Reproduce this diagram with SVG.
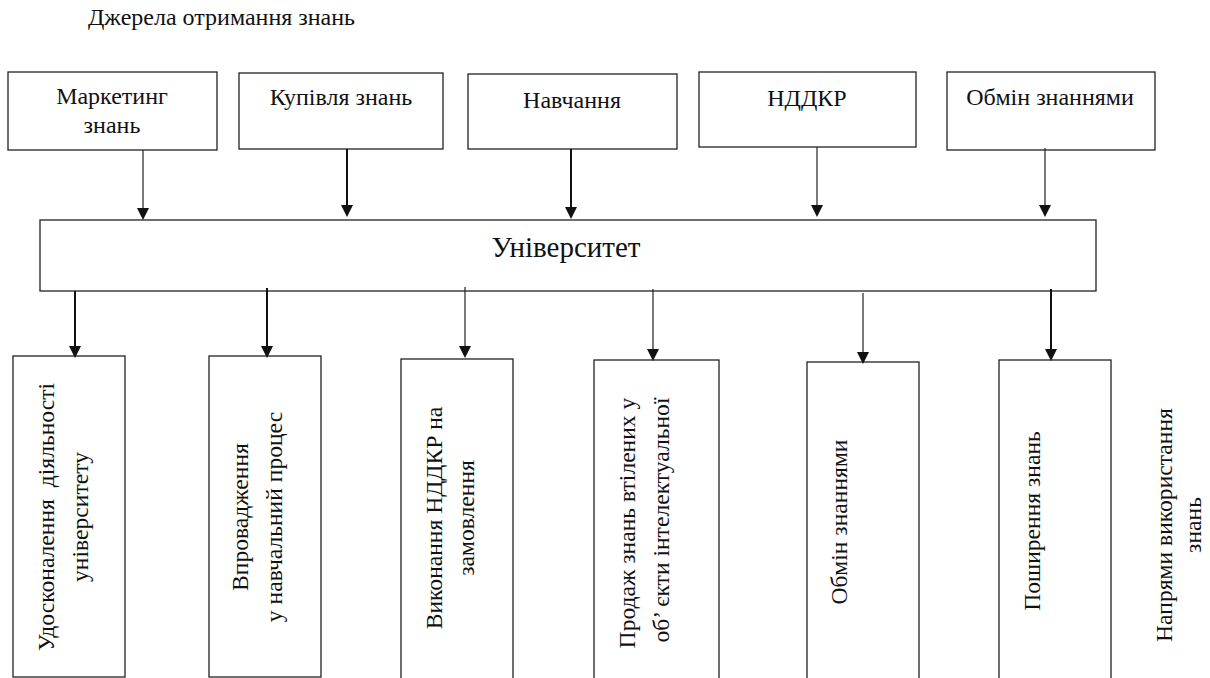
<svg xmlns="http://www.w3.org/2000/svg" width="1210" height="678" viewBox="0 0 1210 678">
<defs>
<style>
.box{fill:#fff;stroke:#222;stroke-width:1.3;}
.t{font-family:"Liberation Serif","Times New Roman",serif;font-size:24px;text-anchor:middle;fill:#111;}
.u{font-family:"Liberation Serif","Times New Roman",serif;font-size:29px;text-anchor:middle;fill:#111;}
.v{font-family:"Liberation Serif","Times New Roman",serif;font-size:23.6px;text-anchor:middle;fill:#111;}
.title{font-family:"Liberation Serif","Times New Roman",serif;font-size:24px;fill:#111;}
.c1{stroke:#222;stroke-width:1.2;fill:none;marker-end:url(#ah);}
.c2{stroke:#111;stroke-width:2;fill:none;marker-end:url(#ah);}
</style>
<marker id="ah" markerUnits="userSpaceOnUse" markerWidth="12" markerHeight="12" refX="0" refY="5" orient="auto" viewBox="0 0 10 10">
<path d="M0,0 L10,5 L0,10 z" fill="#111"/>
</marker>
</defs>
<rect width="1210" height="678" fill="#fff"/>
<text class="title" x="88" y="25">Джерела отримання знань</text>

<g id="src1"><rect class="box" x="8" y="72" width="209" height="78"/><text class="t" x="112" y="104">Маркетинг</text><text class="t" x="112" y="133">знань</text></g>
<g id="src2"><rect class="box" x="239" y="73" width="204" height="76"/><text class="t" x="341" y="105">Купівля знань</text></g>
<g id="src3"><rect class="box" x="468" y="74" width="209" height="75"/><text class="t" x="572" y="108">Навчання</text></g>
<g id="src4"><rect class="box" x="699" y="72" width="217" height="75"/><text class="t" x="807" y="106">НДДКР</text></g>
<g id="src5"><rect class="box" x="947" y="72" width="208" height="78"/><text class="t" x="1050" y="105">Обмін знаннями</text></g>

<g id="university"><rect class="box" x="40" y="220" width="1056" height="71"/><text class="u" x="566" y="257">Університет</text></g>

<g id="use1"><rect class="box" x="13" y="356" width="112" height="321"/>
<text class="v" transform="translate(54,517) rotate(-90)">Удосконалення&#160; діяльності</text>
<text class="v" transform="translate(88,517) rotate(-90)">університету</text></g>
<g id="use2"><rect class="box" x="209" y="356" width="112" height="321"/>
<text class="v" transform="translate(248,517) rotate(-90)">Впровадження</text>
<text class="v" transform="translate(282,517) rotate(-90)">у навчальний процес</text></g>
<g id="use3"><rect class="box" x="401" y="359" width="112" height="330"/>
<text class="v" transform="translate(442,518) rotate(-90)">Виконання НДДКР на</text>
<text class="v" transform="translate(474,518) rotate(-90)">замовлення</text></g>
<g id="use4"><rect class="box" x="594" y="360" width="125" height="330"/>
<text class="v" transform="translate(635,523) rotate(-90)">Продаж знань втілених у</text>
<text class="v" transform="translate(669,520) rotate(-90)">об’ єкти інтелектуальної</text></g>
<g id="use5"><rect class="box" x="807" y="362" width="112" height="330"/>
<text class="v" transform="translate(847,522) rotate(-90)">Обмін знаннями</text></g>
<g id="use6"><rect class="box" x="999" y="360" width="112" height="330"/>
<text class="v" transform="translate(1040,521) rotate(-90)">Поширення знань</text></g>
<g id="label"><text class="v" transform="translate(1172,525) rotate(-90)">Напрями використання</text>
<text class="v" transform="translate(1201,525) rotate(-90)">знань</text></g>

<g id="connectors">
<path class="c1" d="M143,150 V208"/>
<path class="c2" d="M347,149 V205"/>
<path class="c2" d="M571,149 V207"/>
<path class="c1" d="M817,147 V205"/>
<path class="c1" d="M1045,148 V205"/>
<path class="c2" d="M75,291 V346"/>
<path class="c2" d="M267,288 V346"/>
<path class="c1" d="M465,287 V346"/>
<path class="c1" d="M653,289 V349"/>
<path class="c1" d="M863,293 V352"/>
<path class="c2" d="M1051,289 V349"/>
</g>
</svg>
